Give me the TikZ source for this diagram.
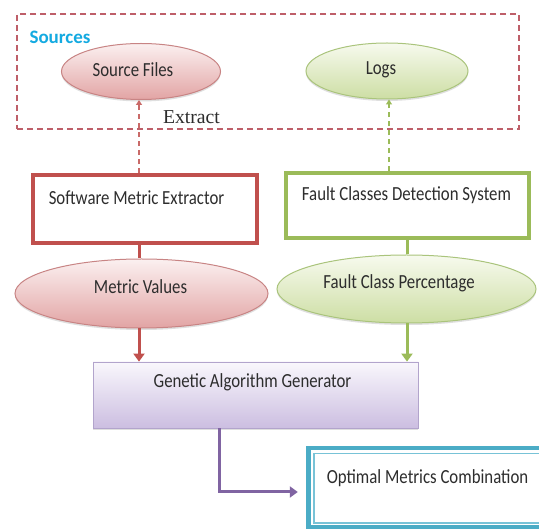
\documentclass[tikz,border=0pt]{standalone}
\usepackage{fontspec}
\setmainfont{Carlito}
\newfontfamily\lblfont[FakeStretch=0.84]{Carlito}
\newfontfamily\serifont{Liberation Serif}
\usetikzlibrary{shapes.geometric,arrows.meta,shadows}

\definecolor{accRed}{RGB}{192,80,77}
\definecolor{accGreen}{RGB}{155,187,89}
\definecolor{accPurple}{RGB}{128,100,162}
\definecolor{accTeal}{RGB}{75,172,198}
\definecolor{tealLight}{RGB}{120,195,215}
\definecolor{frameRed}{RGB}{190,95,105}
\definecolor{srcBlue}{RGB}{20,170,225}
\definecolor{txtGray}{RGB}{45,45,45}
\definecolor{redTop}{RGB}{251,240,240}
\definecolor{redMid}{RGB}{242,208,208}
\definecolor{redBot}{RGB}{226,164,164}
\definecolor{redEdge}{RGB}{200,132,132}
\definecolor{grnTop}{RGB}{247,250,238}
\definecolor{grnMid}{RGB}{232,240,210}
\definecolor{grnBot}{RGB}{205,222,164}
\definecolor{grnEdge}{RGB}{170,196,124}
\definecolor{purTop}{RGB}{249,247,252}
\definecolor{purBot}{RGB}{204,190,225}
\definecolor{purEdge}{RGB}{178,164,204}

\tikzset{
  lbl/.style={font=\lblfont\fontsize{20}{22}\selectfont, text=txtGray, inner sep=0pt},
  softshadow/.style={drop shadow={opacity=0.25, shadow xshift=0pt, shadow yshift=-2pt}},
  redoval/.style={ellipse, draw=redEdge, line width=1pt, top color=redTop, middle color=redMid, bottom color=redBot, softshadow, inner sep=0pt},
  grnoval/.style={ellipse, draw=grnEdge, line width=1pt, top color=grnTop, middle color=grnMid, bottom color=grnBot, softshadow, inner sep=0pt},
  stagebox/.style={rectangle, fill=white, line width=3.5pt, inner sep=0pt},
  solidlink/.style={line width=3pt},
  solidarrow/.style={line width=3pt, -{Triangle[width=11pt,length=8pt]}},
  dasharrow/.style={line width=1.4pt, dash pattern=on 5pt off 4pt, -{Triangle[width=6pt,length=5pt]}}
}

\begin{document}
\begin{tikzpicture}[x=1pt,y=-1pt]
\useasboundingbox (0,0) rectangle (539,529);
\fill[white] (0,0) rectangle (539,529);

% group of input sources
\node[draw=frameRed, line width=1.8pt, dash pattern=on 6pt off 4pt, minimum width=502pt, minimum height=115pt, inner sep=0pt] (frame) at (268,71.5) {};
\node[font=\bfseries\fontsize{19}{21}\selectfont, text=srcBlue, inner sep=0pt] (sources) at (60,37) {Sources};

\node[redoval, minimum width=159pt, minimum height=56pt] (src) at (141,71.5) {};
\node[lbl] (srcT) at (133,70) {Source Files};
\node[grnoval, minimum width=162pt, minimum height=56pt] (logs) at (387,71) {};
\node[lbl] (logsT) at (381,70) {Logs};
\node[font=\serifont\fontsize{19.7}{22}\selectfont, text=txtGray, inner sep=0pt] (extract) at (191.5,117) {Extract};

% processing stages
\node[stagebox, draw=accRed, minimum width=224pt, minimum height=68pt] (sme) at (145,209) {};
\node[lbl] (smeT) at (136.5,198) {Software Metric Extractor};
\node[stagebox, draw=accGreen, minimum width=243pt, minimum height=65pt] (fcds) at (407.5,205.5) {};
\node[lbl] (fcdsT) at (406.5,195) {Fault Classes Detection System};

\node[redoval, minimum width=253pt, minimum height=69pt] (mv) at (141.5,293.5) {};
\node[lbl] (mvT) at (140.5,287) {Metric Values};
\node[grnoval, minimum width=259pt, minimum height=68pt] (fcp) at (406.5,289) {};
\node[lbl] (fcpT) at (399,283) {Fault Class Percentage};

\node[rectangle, draw=purEdge, line width=0.8pt, top color=purTop, bottom color=purBot, softshadow, minimum width=325pt, minimum height=66pt, inner sep=0pt] (gag) at (255.5,395) {};
\node[lbl] (gagT) at (252.5,382) {Genetic Algorithm Generator};

% result box with double teal border
\draw[draw=accTeal, line width=4.5pt, fill=white] (308.5,448) rectangle (560,527.5);
\draw[draw=tealLight, line width=1.6pt] (314,453.5) rectangle (560,523);
\node[inner sep=0pt, minimum width=1pt] (opt) at (308.5,487.5) {};
\node[lbl] (optT) at (427.5,478) {Optimal Metrics Combination};

% connector columns
\coordinate (colL) at (139,0);
\coordinate (colR) at (389,0);
\coordinate (colG) at (407,0);
\coordinate (colP) at (219,0);
\coordinate (bend) at (219,492);

\draw[dasharrow, draw=accRed!85!white] (sme.north -| colL) -- (src.south -| colL);
\draw[dasharrow, draw=accGreen] (fcds.north -| colR) -- (logs.south -| colR);

\draw[solidlink, draw=accRed] (sme.south -| colL) -- (mv.north -| colL);
\draw[solidlink, draw=accGreen] (fcds.south -| colG) -- (fcp.north -| colG);

\draw[solidarrow, draw=accRed] (mv.south -| colL) -- (gag.north -| colL);
\draw[solidarrow, draw=accGreen] (fcp.south -| colG) -- (gag.north -| colG);

\draw[solidarrow, draw=accPurple, shorten >=10pt] (gag.south -| colP) -- (bend) -- (opt.west |- bend);
\end{tikzpicture}
\end{document}
